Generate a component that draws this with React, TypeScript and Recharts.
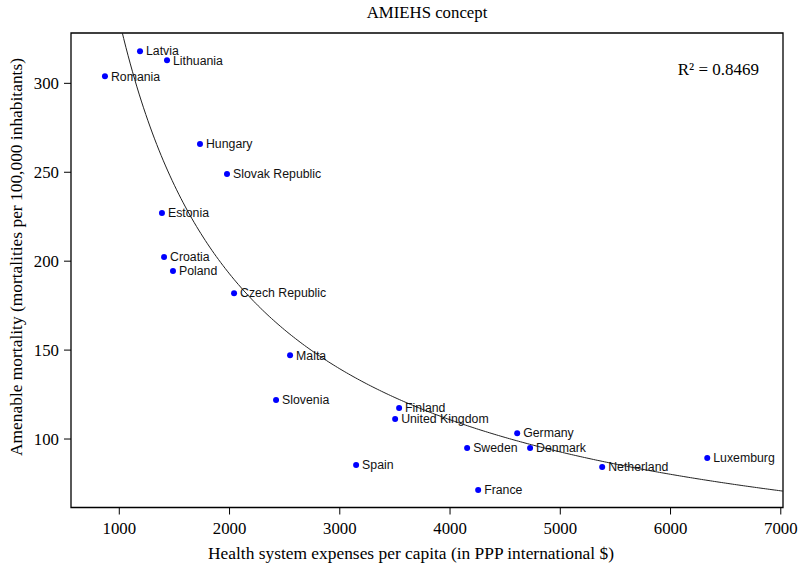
import { ComposedChart, Line, ReferenceArea, Scatter, XAxis, YAxis } from 'recharts'

// values
const countries = [
    'Latvia', 'Lithuania', 'Romania', 'Hungary', 'Slovak Republic', 'Estonia', 'Croatia',
    'Poland', 'Czech Republic', 'Malta', 'Slovenia', 'Finland', 'United Kingdom', 'Germany',
    'Sweden', 'Denmark', 'Spain', 'Netherland', 'Luxemburg', 'France',
]
const expenses = [
    1188, 1433, 870, 1732, 1977, 1387, 1406,
    1487, 2041, 2549, 2422, 3538, 3502, 4609,
    4155, 4726, 3148, 5380, 6333, 4255,
]
const mortality = [
    318.1, 313.0, 304.0, 265.9, 249.0, 227.1, 202.4,
    194.5, 182.0, 147.1, 121.9, 117.4, 111.2, 103.3,
    94.9, 94.9, 85.4, 84.3, 89.3, 71.3,
]
const xTicks = [1000, 2000, 3000, 4000, 5000, 6000, 7000]
const yTicks = [100, 150, 200, 250, 300]
const xDomain = [562, 7020]
const yDomain = [61.5, 328.3]
const rSquared = '0.8469'

// power fit y = a * x^b, parameters
const FIT_A = 83700
const FIT_B = -0.799

const points = countries.map((name, i) => ({ name, x: expenses[i], y: mortality[i] }))

const curve: { x: number, fit: number }[] = []
for (let x = 1000; x <= xDomain[1]; x += 20) {
    curve.push({ x, fit: FIT_A * Math.pow(x, FIT_B) })
}

const SERIF = '"Liberation Serif", "Times New Roman", serif'
const SANS = '"Liberation Sans", Arial, sans-serif'

const PointShape = (props: any) => {
    const { cx, cy, payload } = props
    return (
        <g>
            <circle cx={cx} cy={cy} r={3} fill="#0000ff" />
            <text x={cx + 6} y={cy} dy="0.35em" fontFamily={SANS} fontSize={12.3} fill="#111">
                {payload.name}
            </text>
        </g>
    )
}

export default function App() {
    return (
        <div style={{ position: 'absolute', left: 0, top: 0, width: 803, height: 566, background: '#fff' }}>
            <ComposedChart width={803} height={566} margin={{ top: 33, right: 20, left: 0, bottom: 0 }}>
                <XAxis
                    dataKey="x"
                    type="number"
                    domain={xDomain}
                    ticks={xTicks}
                    allowDataOverflow
                    height={58.5}
                    axisLine={false}
                    tickSize={7}
                    tickMargin={8}
                    tickLine={{ stroke: '#000' }}
                    tick={{ fontFamily: SERIF, fontSize: 16.8, fill: '#000' }}
                />
                <YAxis
                    type="number"
                    domain={yDomain}
                    ticks={yTicks}
                    allowDataOverflow
                    width={71}
                    axisLine={false}
                    tickSize={7}
                    tickMargin={5}
                    tickLine={{ stroke: '#000' }}
                    tick={{ fontFamily: SERIF, fontSize: 16.8, fill: '#000' }}
                />
                <ReferenceArea
                    x1={xDomain[0]}
                    x2={xDomain[1]}
                    y1={yDomain[0]}
                    y2={yDomain[1]}
                    fill="none"
                    stroke="#000"
                    strokeWidth={1.3}
                    fillOpacity={0}
                />
                <Scatter data={points} dataKey="y" shape={PointShape} isAnimationActive={false} />
                <Line
                    data={curve}
                    dataKey="fit"
                    type="linear"
                    dot={false}
                    stroke="#222"
                    strokeWidth={1}
                    isAnimationActive={false}
                />
            </ComposedChart>
            <svg width={803} height={566} style={{ position: 'absolute', left: 0, top: 0, pointerEvents: 'none' }}>
                <text x={427} y={18} textAnchor="middle" fontFamily={SERIF} fontSize={16.8} fill="#000">
                    AMIEHS concept
                </text>
                <text x={759} y={75} textAnchor="end" fontFamily={SERIF} fontSize={17} fill="#000">
                    R² = {rSquared}
                </text>
                <text x={411} y={559} textAnchor="middle" fontFamily={SERIF} fontSize={17.4} fill="#000">
                    Health system expenses per capita (in PPP international $)
                </text>
                <text
                    x={0}
                    y={0}
                    transform="translate(22, 257) rotate(-90)"
                    textAnchor="middle"
                    fontFamily={SERIF}
                    fontSize={17.4}
                    fill="#000"
                >
                    Amenable mortality (mortalities per 100,000 inhabitants)
                </text>
            </svg>
        </div>
    )
}
